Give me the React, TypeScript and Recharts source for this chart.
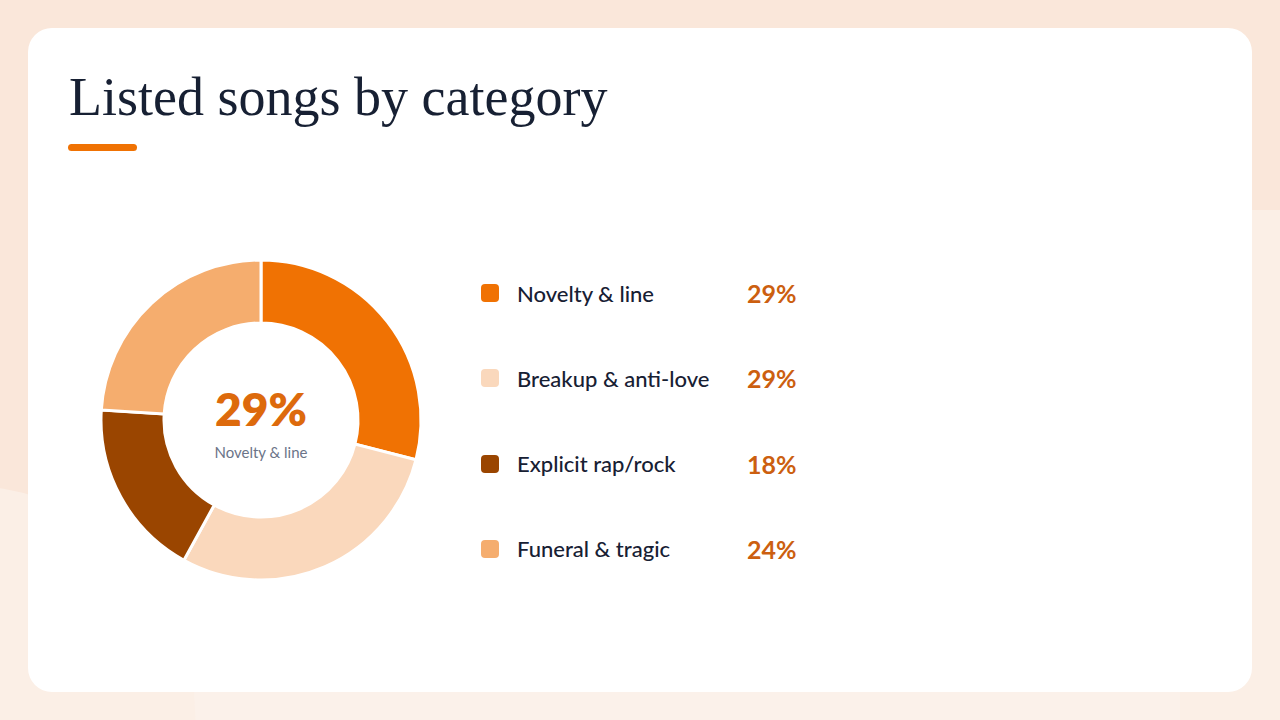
import { PieChart, Pie, Cell } from 'recharts';

const categories = ['Novelty & line', 'Breakup & anti-love', 'Explicit rap/rock', 'Funeral & tragic'];
const shares = [29, 29, 18, 24];
const sliceColors = ['#F07203', '#FAD8BC', '#9A4500', '#F5AD6E'];

const data = categories.map((name, i) => ({ name, value: shares[i] }));

const sans = 'Lato, "Noto Sans", sans-serif';

const App = () => {
    return (
        <div style={{ position: 'absolute', left: 0, top: 0, width: 1280, height: 720, overflow: 'hidden', background: '#FAE7DA' }}>
            {/* soft background shapes */}
            <div style={{ position: 'absolute', left: -200, top: 500, width: 420, height: 400, borderRadius: '40%', background: '#FBEFE6', transform: 'rotate(20deg)' }} />
            <div style={{ position: 'absolute', left: 200, top: 640, width: 1200, height: 300, background: '#FBF1EA', transform: 'rotate(-3deg)' }} />
            <div style={{ position: 'absolute', left: 1180, top: 210, width: 200, height: 600, background: '#FBEFE6' }} />

            <div style={{ position: 'absolute', left: 28, top: 28, width: 1224, height: 664, background: '#fff', borderRadius: 24 }}>
                <div style={{ position: 'absolute', left: 41, top: 38, fontFamily: '"Liberation Serif", "DejaVu Serif", serif', fontSize: 54, color: '#172033', whiteSpace: 'nowrap' }}>
                    Listed songs by category
                </div>
                <div style={{ position: 'absolute', left: 40, top: 116, width: 69, height: 7, borderRadius: 4, background: '#F07203' }} />

                <div style={{ position: 'absolute', left: 63, top: 222 }}>
                    <PieChart width={340} height={340} margin={{ top: 0, right: 0, bottom: 0, left: 0 }}>
                        <Pie
                            data={data}
                            dataKey="value"
                            nameKey="name"
                            cx={170}
                            cy={170}
                            startAngle={90}
                            endAngle={-270}
                            innerRadius={97}
                            outerRadius={160}
                            stroke="#fff"
                            strokeWidth={3}
                            isAnimationActive={false}
                        >
                            {data.map((d, i) => (
                                <Cell key={d.name} fill={sliceColors[i]} />
                            ))}
                        </Pie>
                    </PieChart>
                </div>

                <div style={{ position: 'absolute', left: 133, top: 353, width: 200, textAlign: 'center', fontFamily: sans, fontWeight: 800, fontSize: 46, color: '#DD6A0C' }}>
                    {shares[0]}%
                </div>
                <div style={{ position: 'absolute', left: 133, top: 415, width: 200, textAlign: 'center', fontFamily: sans, fontSize: 15, color: '#6B7488' }}>
                    {categories[0]}
                </div>

                {categories.map((name, i) => (
                    <div key={name} style={{ position: 'absolute', left: 453, top: 250 + i * 85.3, height: 30, display: 'flex', alignItems: 'center', fontFamily: sans }}>
                        <div style={{ width: 18, height: 18, borderRadius: 4, background: sliceColors[i] }} />
                        <div style={{ marginLeft: 18, width: 230, fontSize: 22, fontWeight: 500, color: '#172033' }}>{name}</div>
                        <div style={{ fontSize: 25, fontWeight: 700, color: '#CC5F10' }}>{shares[i]}%</div>
                    </div>
                ))}
            </div>
        </div>
    );
};

export default App;
